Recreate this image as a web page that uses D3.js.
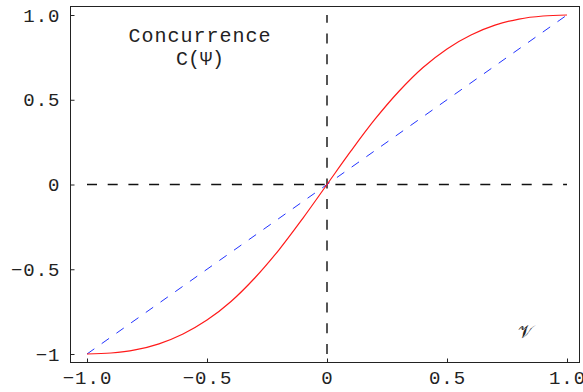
<!DOCTYPE html>
<html>
<head>
<meta charset="utf-8">
<script src="https://cdn.jsdelivr.net/npm/d3@7"></script>
<style>
  body { margin: 0; background: #fff; }
  svg { display: block; }
  text { font-family: "Liberation Mono", "DejaVu Sans Mono", monospace; fill: #222; }
</style>
</head>
<body>
<div id="chart"></div>
<script>
// values
const nu = [-1.0, -0.9, -0.8, -0.7, -0.6, -0.5, -0.4, -0.3, -0.2, -0.1, 0.0,
            0.1, 0.2, 0.3, 0.4, 0.5, 0.6, 0.7, 0.8, 0.9, 1.0];
const concurrence = [-1.0, -0.994, -0.976, -0.94, -0.882, -0.80, -0.69, -0.55, -0.385, -0.198, 0.0,
                     0.198, 0.385, 0.55, 0.69, 0.80, 0.882, 0.94, 0.976, 0.994, 1.0];
const diagonal = [-1.0, 1.0];
const xTicks = [-1.0, -0.5, 0.0, 0.5, 1.0];
const yTicks = [-1.0, -0.5, 0.0, 0.5, 1.0];
const xTickLabels = ['-1.0', '-0.5', '0', '0.5', '1.0'];
const yTickLabels = ['-1', '-0.5', '0', '0.5', '1.0'];

const width = 583, height = 392;
const frame = { left: 70, right: 579, top: 6, bottom: 362 };

const svg = d3.select('#chart').append('svg')
  .attr('width', width)
  .attr('height', height);

const x = d3.scaleLinear().domain([-1, 1]).range([87, 567]);
const y = d3.scaleLinear().domain([-1, 1]).range([354, 15]);

// frame
svg.append('rect')
  .attr('x', frame.left + 0.5)
  .attr('y', frame.top + 0.5)
  .attr('width', frame.right - frame.left)
  .attr('height', frame.bottom - frame.top)
  .attr('fill', 'none')
  .attr('stroke', '#222')
  .attr('stroke-width', 1);

// bottom axis: inward ticks
const xAxis = svg.append('g')
  .attr('transform', `translate(0, ${frame.bottom + 0.5})`)
  .call(d3.axisBottom(x).tickValues(xTicks).tickSize(-4).tickPadding(8)
    .tickFormat((d, i) => xTickLabels[i].replace('-', '\u2212')));
xAxis.select('.domain').remove();
xAxis.selectAll('.tick line').attr('stroke', '#222');
xAxis.selectAll('.tick text')
  .attr('font-size', 19)
  .attr('letter-spacing', 1)
  .attr('dy', '0.71em')
  .attr('fill', '#222');

// left axis
const yAxis = svg.append('g')
  .attr('transform', `translate(${frame.left + 0.5}, 0)`)
  .call(d3.axisLeft(y).tickValues(yTicks).tickSize(-4).tickPadding(10)
    .tickFormat((d, i) => yTickLabels[i].replace('-', '\u2212')));
yAxis.select('.domain').remove();
yAxis.selectAll('.tick line').attr('stroke', '#222');
yAxis.selectAll('.tick text')
  .attr('font-size', 19)
  .attr('letter-spacing', 1)
  .attr('fill', '#222');

// reference lines
svg.append('line')
  .attr('x1', x(-1)).attr('x2', x(1))
  .attr('y1', y(0)).attr('y2', y(0))
  .attr('stroke', '#111')
  .attr('stroke-width', 1.5)
  .attr('stroke-dasharray', '10,10.7');

svg.append('line')
  .attr('x1', x(0)).attr('x2', x(0))
  .attr('y1', y(-1)).attr('y2', y(1))
  .attr('stroke', '#555')
  .attr('stroke-width', 2)
  .attr('stroke-dasharray', '10,10.7');

// diagonal
svg.append('line')
  .attr('x1', x(diagonal[0])).attr('y1', y(diagonal[0]))
  .attr('x2', x(diagonal[1])).attr('y2', y(diagonal[1]))
  .attr('stroke', '#2233ff')
  .attr('stroke-width', 1)
  .attr('stroke-dasharray', '9,9');

// concurrence curve
const line = d3.line()
  .x((d, i) => x(nu[i]))
  .y(d => y(d))
  .curve(d3.curveCatmullRom.alpha(0.5));

svg.append('path')
  .datum(concurrence)
  .attr('d', line)
  .attr('fill', 'none')
  .attr('stroke', '#ff1a1a')
  .attr('stroke-width', 1.2);

// labels
svg.append('text')
  .attr('x', 200).attr('y', 42)
  .attr('text-anchor', 'middle')
  .attr('font-size', 20)
  .attr('letter-spacing', 1)
  .text('Concurrence');

svg.append('text')
  .attr('x', 200).attr('y', 65)
  .attr('text-anchor', 'middle')
  .attr('font-size', 20)
  .text('C(\u03A8)');

svg.append('text')
  .attr('x', 525).attr('y', 338)
  .attr('text-anchor', 'middle')
  .attr('font-size', 18)
  .style('font-family', '"DejaVu Sans", "Noto Sans", serif')
  .text('\uD835\uDCB1');
</script>
</body>
</html>
